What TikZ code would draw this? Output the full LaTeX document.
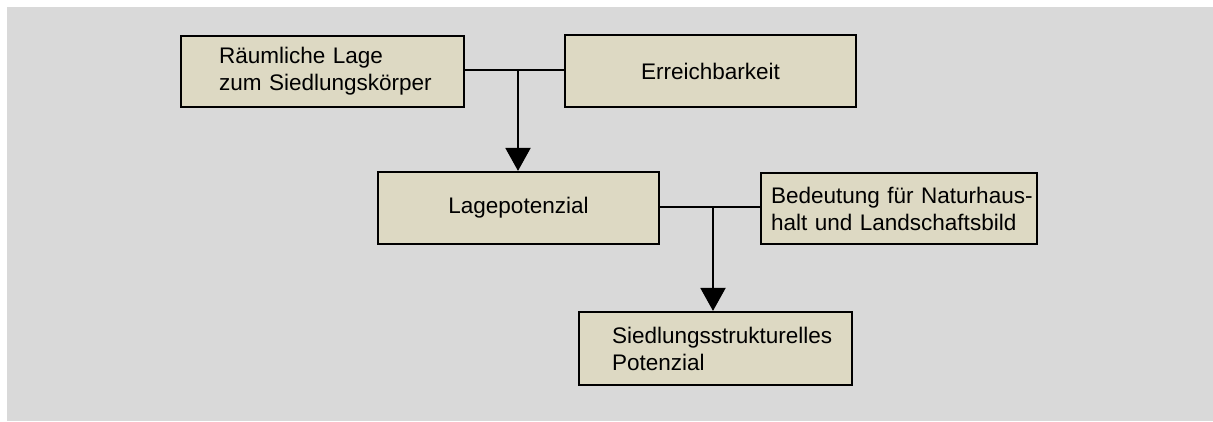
\documentclass[tikz,border=0pt]{standalone}
\usepackage{fontspec}
\setmainfont{Liberation Sans}
\usetikzlibrary{arrows.meta,calc}
\definecolor{panel}{HTML}{D9D9D9}
\definecolor{boxfill}{HTML}{DDD9C3}
\begin{document}
\begin{tikzpicture}[x=1bp,y=-1bp,
  box/.style={draw=black, line width=2.2bp, fill=boxfill, inner ysep=0pt,
    font=\fontsize{22.6}{27.1}\selectfont, align=left},
  link/.style={draw=black, line width=2bp},
  flow/.style={link, -{Triangle[width=25bp,length=23bp]}}]
\useasboundingbox (0,0) rectangle (1213,421);
\fill[panel] (7,7) rectangle (1213,421);

% upper row
\node[box, inner xsep=38bp, text width=207bp, minimum height=71bp] (b1) at (322.5,71.5)
  {\mbox{Räumliche Lage}\\\mbox{zum Siedlungskörper}};
\node[box, minimum width=291bp, minimum height=72bp] (b2) at (710.5,71) {Erreichbarkeit};

% middle row
\node[box, minimum width=281bp, minimum height=72bp] (b3) at (518.5,208) {Lagepotenzial};
\node[box, inner xsep=10bp, text width=256bp, minimum height=71bp] (b4) at (899,208.5)
  {\mbox{Bedeutung für Naturhaus-}\\\mbox{halt und Landschaftsbild}};

% result
\node[box, inner xsep=33bp, text width=207bp, minimum height=73bp] (b5) at (715.5,348.5)
  {\mbox{Siedlungsstrukturelles}\\\mbox{Potenzial}};

% junctions
\coordinate (j1) at (518,70);
\coordinate (j2) at (713,207);

\draw[link] (b1.east |- j1) -- (b2.west |- j1);
\draw[flow] (j1) -- (j1 |- b3.north);
\draw[link] (b3.east |- j2) -- (b4.west |- j2);
\draw[flow] (j2) -- (j2 |- b5.north);
\end{tikzpicture}
\end{document}
